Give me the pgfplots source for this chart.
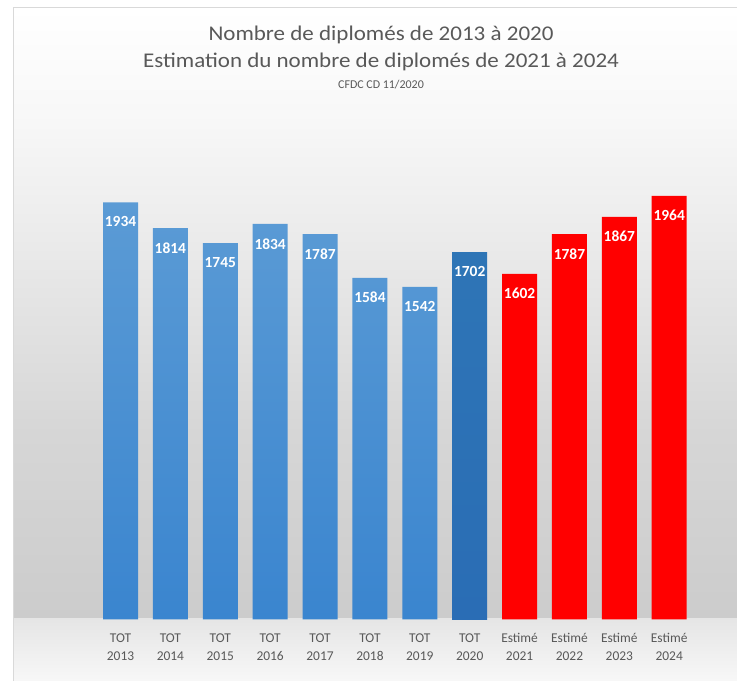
\documentclass[border=0pt]{standalone}
\usepackage{pgfplots}
\pgfplotsset{compat=1.18}
\usepackage{fontspec}
\setmainfont{Carlito}
\newfontfamily\titlefont{Carlito}[FakeStretch=1.1]
\definecolor{txtgrey}{HTML}{595959}
\definecolor{bluetop}{HTML}{5B9BD5}
\definecolor{bluebot}{HTML}{3A85CF}
\definecolor{dbluetop}{HTML}{2E75B6}
\definecolor{dbluebot}{HTML}{2A6DB5}
\definecolor{redbar}{HTML}{FF0000}

\pgfplotstableread{
x y
0 1934
1 1814
2 1745
3 1834
4 1787
5 1584
6 1542
}\tot
\pgfplotstableread{
x y
7 1702
}\totlast
\pgfplotstableread{
x y
8 1602
9 1787
10 1867
11 1964
}\estime

\begin{document}
\begin{tikzpicture}[x=1bp,y=1bp]
\useasboundingbox (0,0) rectangle (737,681);
\fill[white] (0,0) rectangle (737,681);
% background gradient
\shade[top color=white, bottom color=white!97!black] (13,560) rectangle (737,673);
\shade[top color=white!97!black, bottom color=white!84!black] (13,250) rectangle (737,560);
\shade[top color=white!84!black, bottom color=white!80!black] (13,62) rectangle (737,250);
\shade[top color=white!90!black, bottom color=white!97!black] (13,0) rectangle (737,62);
\draw[black!15, line width=1bp] (13,0) -- (13,673) -- (737,673);
% titles
\node[anchor=base, text=txtgrey, font=\titlefont\fontsize{21}{25}\selectfont] at (381,640) {Nombre de diplomés de 2013 à 2020};
\node[anchor=base, text=txtgrey, font=\titlefont\fontsize{21}{25}\selectfont] at (381,613) {Estimation du nombre de diplomés de 2021 à 2024};
\node[anchor=base, text=txtgrey, font=\fontsize{12}{14}\selectfont] at (381,592) {CFDC CD 11/2020};
\begin{axis}[
  at={(95.56bp,61.7bp)}, anchor=south west,
  scale only axis, width=598.6bp, height=431.2bp,
  xmin=-0.5, xmax=11.5, ymin=0, ymax=2000,
  axis line style={draw=none},
  ytick=\empty,
  xtick={0,...,11},
  xticklabels={{TOT\\2013},{TOT\\2014},{TOT\\2015},{TOT\\2016},{TOT\\2017},{TOT\\2018},{TOT\\2019},{TOT\\2020},{Estimé\\2021},{Estimé\\2022},{Estimé\\2023},{Estimé\\2024}},
  xticklabel style={align=center, text=txtgrey, font=\fontsize{13.5}{18.3}\selectfont, yshift=-10.5bp},
  major tick length=0pt,
  clip=false,
  ybar, bar width=35bp, bar shift=0pt,
  nodes near coords={\pgfmathprintnumber[assume math mode=true, 1000 sep={}, fixed, precision=0]{\pgfplotspointmeta}},
  every node near coord/.append style={anchor=north, yshift=-11bp, text=white, font=\bfseries\fontsize{15.5}{16}\selectfont},
]
\addplot[draw=none, top color=bluetop, bottom color=bluebot] table[x=x,y=y] {\tot};
\addplot[draw=none, top color=dbluetop, bottom color=dbluebot] table[x=x,y=y] {\totlast};
\addplot[draw=none, fill=redbar] table[x=x,y=y] {\estime};
\end{axis}
\end{tikzpicture}
\end{document}
